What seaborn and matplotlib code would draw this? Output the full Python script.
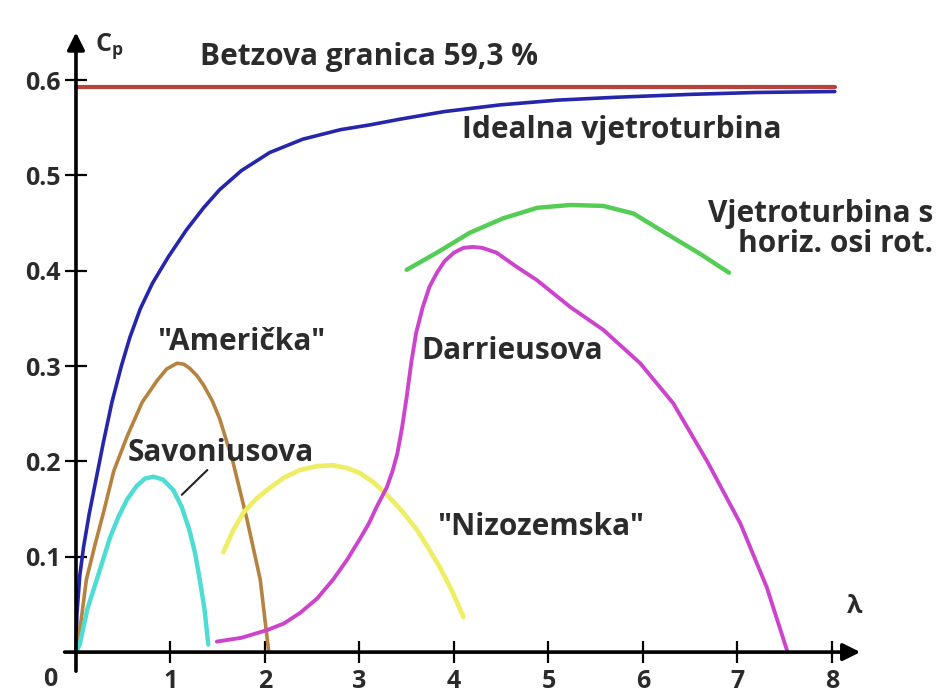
"""
Cp(lambda) curves of common wind turbine types, with the Betz limit.
"""

import matplotlib
matplotlib.use("Agg")
import matplotlib.pyplot as plt
import seaborn as sns

# --- data ---
BETZ_X = [0.0, 8.03]
BETZ_Y = [0.593, 0.593]

IDEAL_X = [0.0, 0.01, 0.04, 0.08, 0.14, 0.21, 0.29, 0.38, 0.48, 0.57,
           0.68, 0.81, 0.98, 1.17, 1.35, 1.52, 1.75, 2.05, 2.4, 2.8, 3.11, 3.43,
           3.9, 4.49, 5.1, 5.72, 6.5, 7.2, 8.03]
IDEAL_Y = [0.0, 0.04, 0.08, 0.11, 0.145, 0.18, 0.22, 0.262, 0.3, 0.33,
           0.36, 0.387, 0.415, 0.443, 0.466, 0.485, 0.505, 0.524, 0.538, 0.548, 0.553, 0.559,
           0.567, 0.574, 0.579, 0.582, 0.585, 0.587, 0.588]

AMER_X = [0.0, 0.05, 0.11, 0.2, 0.29, 0.4, 0.54, 0.7, 0.86, 0.96, 1.07, 1.14, 1.2,
          1.28, 1.35, 1.44, 1.52, 1.66, 1.81, 1.95, 2.04]
AMER_Y = [0.0, 0.03, 0.076, 0.112, 0.146, 0.19, 0.226, 0.262, 0.285, 0.297, 0.303, 0.302, 0.298,
          0.29, 0.28, 0.264, 0.245, 0.2, 0.139, 0.076, 0.0]

SAV_X = [0.0, 0.04, 0.12, 0.22, 0.36, 0.45, 0.54, 0.64, 0.73, 0.82, 0.92, 1.03, 1.12,
         1.2, 1.26, 1.31, 1.36, 1.4]
SAV_Y = [0.0, 0.008, 0.045, 0.076, 0.12, 0.142, 0.16, 0.174, 0.182, 0.184, 0.181, 0.17, 0.152,
         0.128, 0.104, 0.076, 0.045, 0.008]

NIZ_X = [1.56, 1.66, 1.77, 1.9, 2.02, 2.2, 2.37, 2.55, 2.72, 2.87, 3.0, 3.15, 3.29,
         3.45, 3.61, 3.73, 3.85, 3.98, 4.1]
NIZ_Y = [0.105, 0.127, 0.146, 0.16, 0.17, 0.183, 0.191, 0.195, 0.196, 0.193, 0.188, 0.178, 0.165,
         0.148, 0.128, 0.109, 0.089, 0.064, 0.037]

DAR_X = [1.49, 1.75, 2.02, 2.2, 2.37, 2.55, 2.72, 2.87, 3.0, 3.1, 3.18, 3.29, 3.35,
         3.4, 3.45, 3.5, 3.55, 3.6, 3.67, 3.74, 3.82, 3.9, 4.0, 4.1, 4.2, 4.3,
         4.45, 4.65, 4.88, 5.23, 5.58, 5.97, 6.32, 6.68, 7.03, 7.31, 7.53]
DAR_Y = [0.011, 0.015, 0.023, 0.03, 0.041, 0.056, 0.076, 0.097, 0.118, 0.135, 0.152, 0.173, 0.19,
         0.208, 0.235, 0.268, 0.305, 0.335, 0.362, 0.383, 0.398, 0.41, 0.419, 0.424, 0.425, 0.424,
         0.419, 0.405, 0.39, 0.362, 0.338, 0.303, 0.261, 0.2, 0.135, 0.068, 0.0]

HOR_X = [3.5, 3.82, 4.17, 4.52, 4.88, 5.23, 5.58, 5.9, 6.23, 6.6, 6.91]
HOR_Y = [0.401, 0.419, 0.44, 0.455, 0.466, 0.469, 0.468, 0.46, 0.44, 0.418, 0.398]

SAV_LEADER_X = [1.12, 1.39]
SAV_LEADER_Y = [0.165, 0.191]

X_TICKS = [1, 2, 3, 4, 5, 6, 7, 8]
Y_TICKS = [0.1, 0.2, 0.3, 0.4, 0.5, 0.6]

CURVES = [
    (BETZ_X, BETZ_Y, "#b8423e", 3.0),
    (IDEAL_X, IDEAL_Y, "#2626aa", 2.6),
    (AMER_X, AMER_Y, "#b5823f", 2.6),
    (SAV_X, SAV_Y, "#4fdcd2", 3.2),
    (NIZ_X, NIZ_Y, "#eeee66", 3.4),
    (DAR_X, DAR_Y, "#cc44cc", 2.8),
    (HOR_X, HOR_Y, "#55cc55", 3.2),
]

TXT = "#2b2b2b"
FS_TICK = 18
FS_LABEL = 21.5

sns.set_theme(style="white")
plt.rcParams["font.family"] = ["Open Sans", "DejaVu Sans"]
plt.rcParams["mathtext.fontset"] = "custom"
plt.rcParams["mathtext.rm"] = "Open Sans"
plt.rcParams["mathtext.bf"] = "Open Sans:bold"

fig = plt.figure(figsize=(9.38, 6.95), dpi=100)
ax = fig.add_axes([0, 0, 1, 1])
ax.set_xlim(-0.804, 9.122)
ax.set_ylim(-0.045, 0.684)

for xs, ys, col, lw in CURVES:
    sns.lineplot(x=xs, y=ys, sort=False, estimator=None, color=col, lw=lw,
                 solid_capstyle="round", solid_joinstyle="round", ax=ax)
sns.lineplot(x=SAV_LEADER_X, y=SAV_LEADER_Y, sort=False, estimator=None,
             color="#222222", lw=1.5, ax=ax)

# axes through origin, drawn as arrows
for s in ax.spines.values():
    s.set_visible(False)
ax.spines["left"].set_position(("data", 0))
ax.spines["bottom"].set_position(("data", 0))
arrow = dict(arrowstyle="-|>", lw=2.6, color="black", mutation_scale=26,
             shrinkA=0, shrinkB=0)
ax.annotate("", xy=(8.3, 0), xytext=(-0.12, 0), arrowprops=arrow)
ax.annotate("", xy=(0, 0.65), xytext=(0, -0.02), arrowprops=arrow)

ax.set_xticks(X_TICKS)
ax.set_xticklabels([str(t) for t in X_TICKS])
ax.set_yticks(Y_TICKS)
ax.set_yticklabels([f"{t:.1f}" for t in Y_TICKS])
ax.tick_params(axis="both", direction="inout", length=16, width=1.6,
               color="black", labelsize=FS_TICK, labelcolor=TXT)
ax.tick_params(axis="x", bottom=True, pad=4)
ax.tick_params(axis="y", left=True, pad=3)
for lab in ax.get_xticklabels() + ax.get_yticklabels():
    lab.set_fontweight("bold")
ax.grid(False)

tk = dict(color=TXT, fontsize=FS_TICK, fontweight="bold", va="center")
ax.text(-0.275, -0.029, "0", ha="center", **tk)
ax.text(0.2, 0.636, r"C$_{\mathbf{p}}$", ha="left", **tk)
ax.text(8.24, 0.048, "λ", ha="center", **tk)

lb = dict(tk, fontsize=FS_LABEL)
ax.text(1.31, 0.624, "Betzova granica 59,3 %", ha="left", **lb)
ax.text(4.08, 0.548, "Idealna vjetroturbina", ha="left", **lb)
ax.text(9.07, 0.444, "Vjetroturbina s\nhoriz. osi rot.", ha="right",
        multialignment="right", linespacing=1.0, **lb)
ax.text(0.857, 0.325, "\"Američka\"", ha="left", **lb)
ax.text(3.66, 0.316, "Darrieusova", ha="left", **lb)
ax.text(0.55, 0.209, "Savoniusova", ha="left", **lb)
ax.text(3.82, 0.131, "\"Nizozemska\"", ha="left", **lb)

ax.set_xlabel("")
ax.set_ylabel("")
fig.savefig("out.png", dpi=100)
